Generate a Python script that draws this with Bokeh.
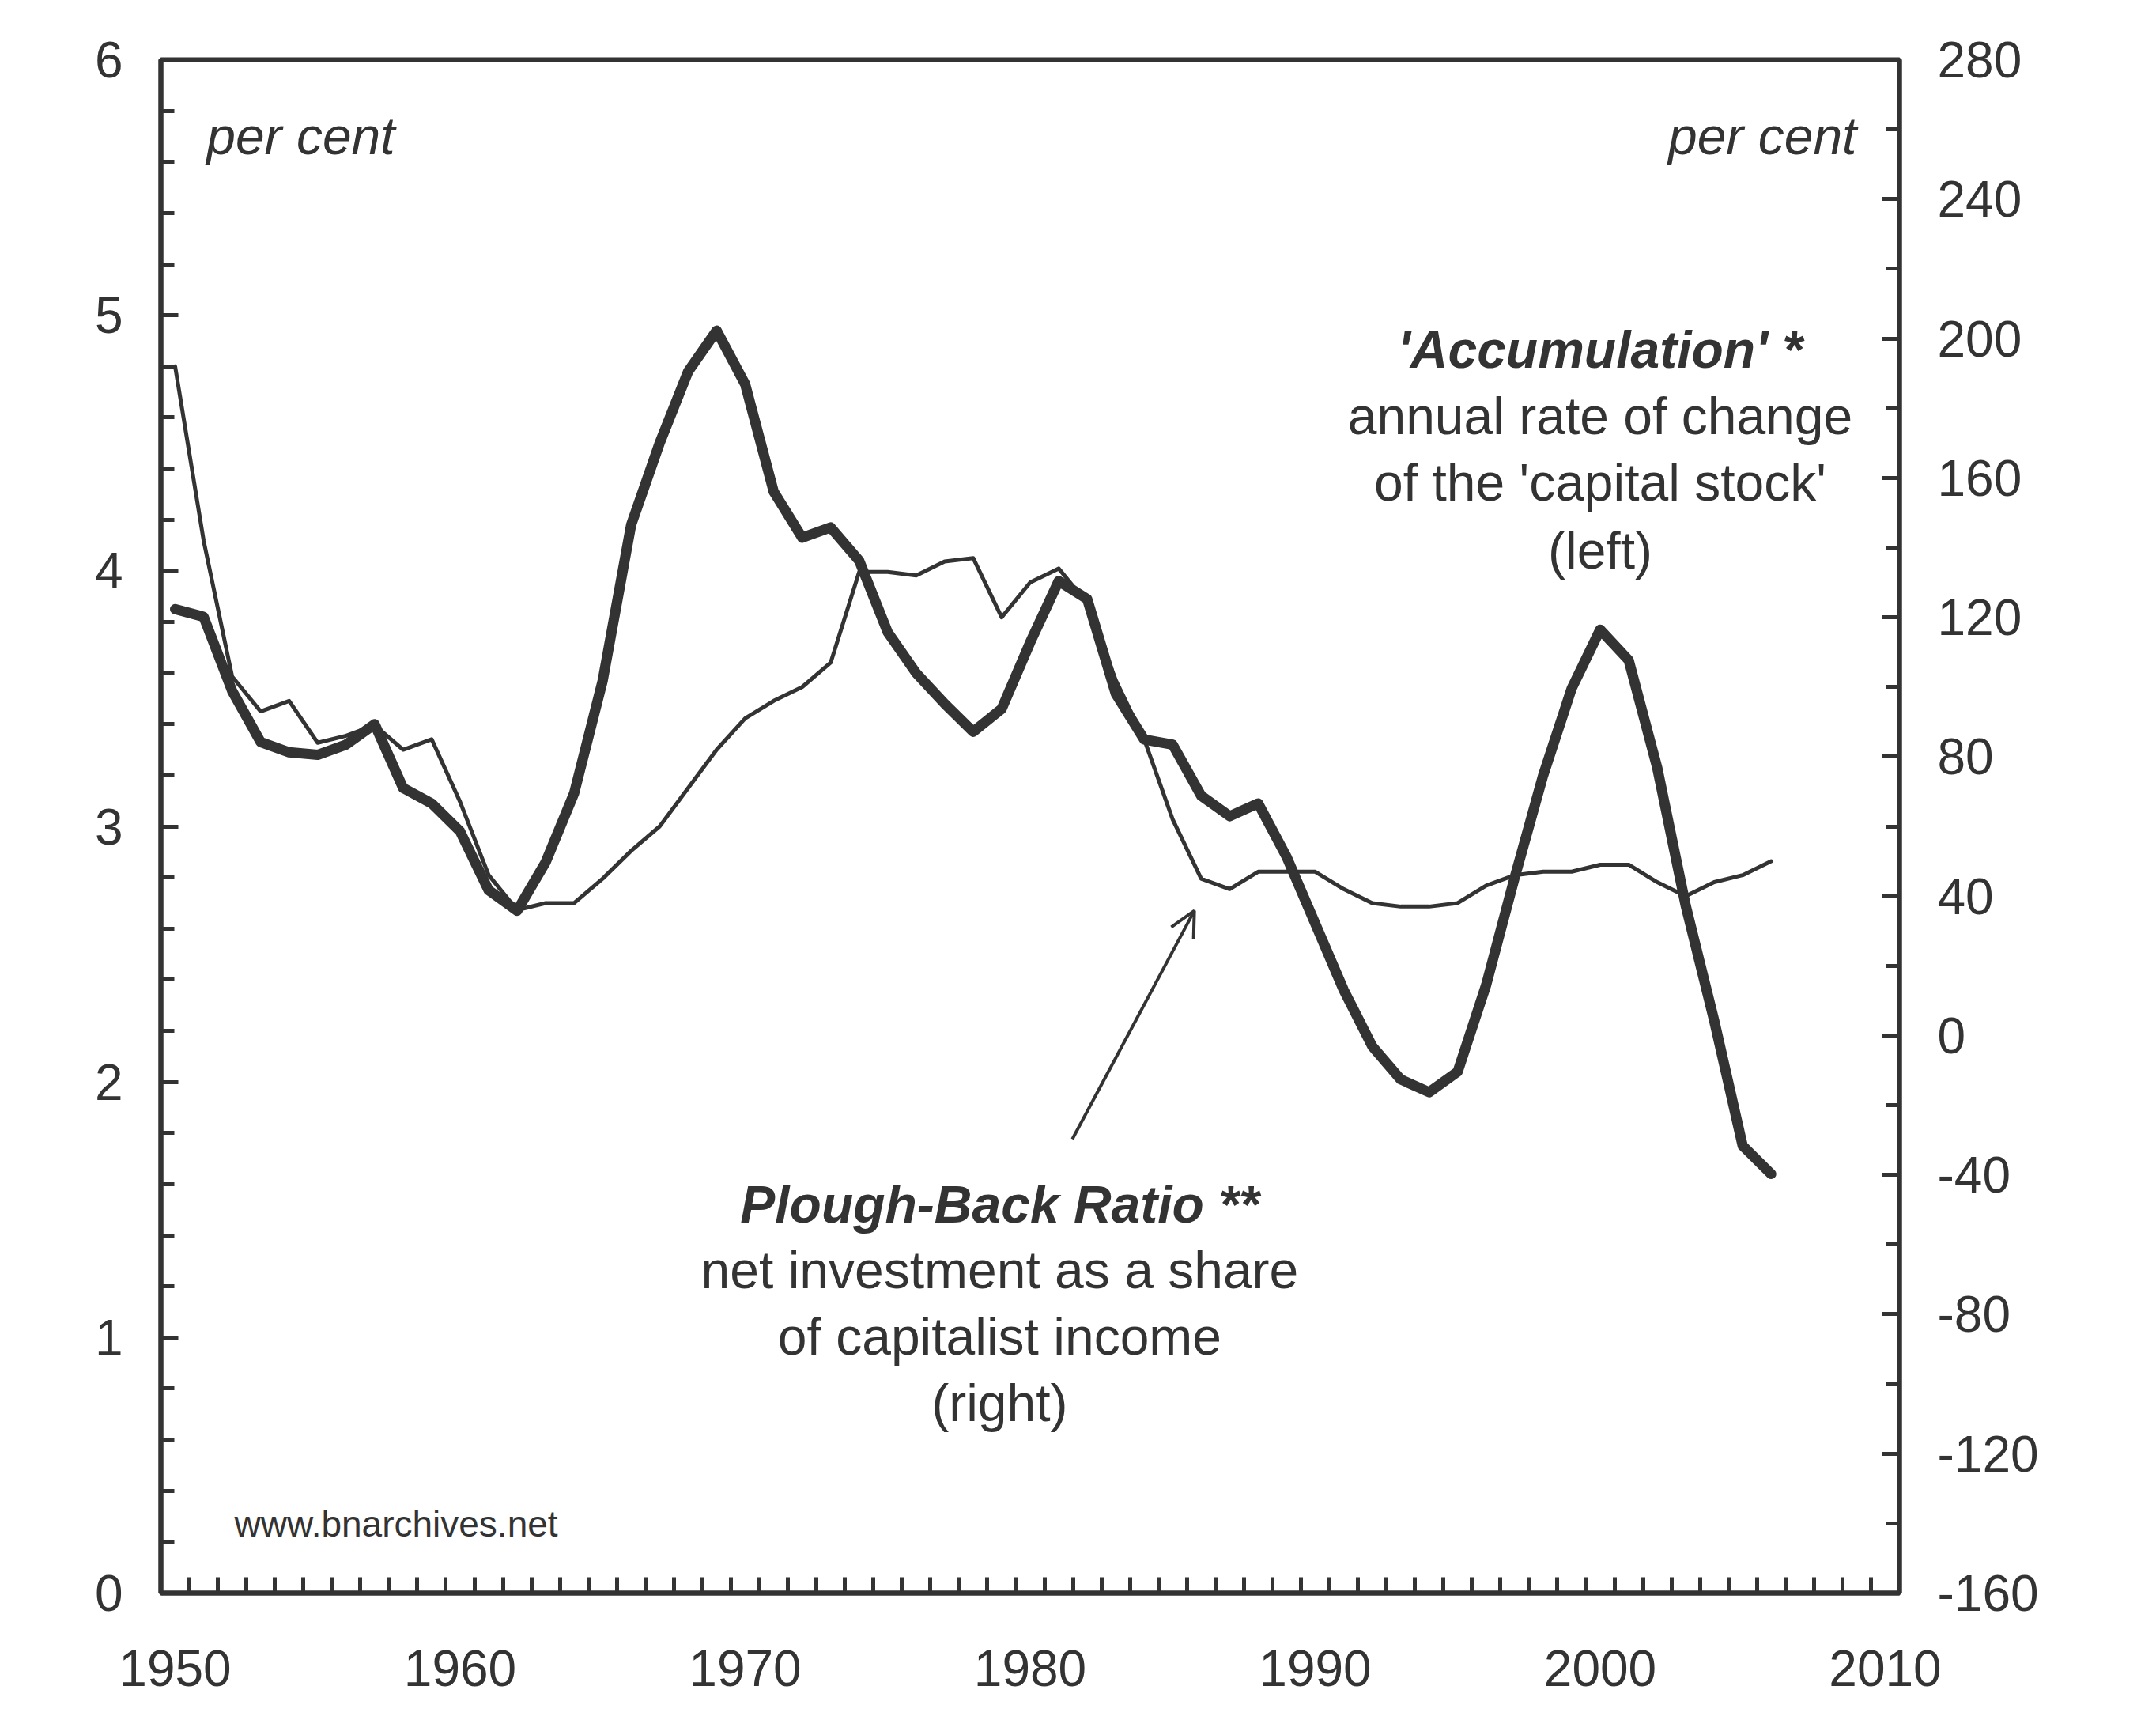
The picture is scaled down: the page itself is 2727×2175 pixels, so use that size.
from bokeh.plotting import figure
from bokeh.models import (Range1d, LinearAxis, FixedTicker, SingleIntervalTicker,
                          Label, Arrow, OpenHead, ColumnDataSource)
from bokeh.embed import file_html
from bokeh.resources import INLINE

years = list(range(1950, 2007))

accumulation = [3.85, 3.82, 3.53, 3.33, 3.29, 3.28, 3.32, 3.40, 3.15, 3.09,
                2.98, 2.75, 2.67, 2.86, 3.13, 3.57, 4.18, 4.50, 4.78, 4.94,
                4.73, 4.31, 4.13, 4.17, 4.04, 3.76, 3.60, 3.48, 3.37, 3.46,
                3.72, 3.96, 3.89, 3.52, 3.34, 3.32, 3.12, 3.04, 3.09, 2.88,
                2.62, 2.36, 2.14, 2.01, 1.96, 2.04, 2.38, 2.80, 3.20, 3.54,
                3.77, 3.65, 3.23, 2.69, 2.24, 1.75, 1.64]

plough_back = [192, 142, 103, 93, 96, 84, 86, 89, 82, 85,
               67, 46, 36, 38, 38, 45, 53, 60, 71, 82,
               91, 96, 100, 107, 133, 133, 132, 136, 137, 120,
               130, 134, 124, 102, 85, 62, 45, 42, 47, 47,
               47, 42, 38, 37, 37, 38, 43, 46, 47, 47,
               49, 49, 44, 40, 44, 46, 50]

x_labels = [1950, 1960, 1970, 1980, 1990, 2000, 2010]
left_ticks = [0, 1, 2, 3, 4, 5, 6]
right_ticks = [-160, -120, -80, -40, 0, 40, 80, 120, 160, 200, 240, 280]

INK = "#333333"
FONT = "Liberation Sans"

p = figure(width=2727, height=2175, output_backend="svg", toolbar_location=None,
           x_range=Range1d(1949.5, 2010.5), y_range=Range1d(0, 6),
           x_axis_location=None, y_axis_location=None,
           min_border_left=203, min_border_right=325,
           min_border_top=75, min_border_bottom=161)
p.background_fill_color = "white"
p.border_fill_color = "white"
p.xgrid.visible = False
p.ygrid.visible = False
p.outline_line_color = INK
p.outline_line_width = 6
p.extra_y_ranges = {"right": Range1d(-160, 280)}

def style(ax, tick_in, minor_in, standoff):
    ax.axis_line_color = INK
    ax.axis_line_width = 6
    ax.major_tick_line_color = INK
    ax.major_tick_line_width = 5
    ax.minor_tick_line_color = INK
    ax.minor_tick_line_width = 5
    ax.major_tick_in = tick_in
    ax.major_tick_out = 0
    ax.minor_tick_in = minor_in
    ax.minor_tick_out = 0
    ax.major_label_text_color = INK
    ax.major_label_text_font = FONT
    ax.major_label_text_font_size = "64px"
    ax.major_label_standoff = standoff

xax = LinearAxis(ticker=FixedTicker(ticks=x_labels,
                                    minor_ticks=[y + 0.5 for y in range(1950, 2010)]))
style(xax, 0, 20, 72)
xax.major_label_overrides = {v: str(v) for v in x_labels}
p.add_layout(xax, "below")

lax = LinearAxis(ticker=SingleIntervalTicker(interval=1, num_minor_ticks=5))
style(lax, 22, 17, 48)
lax.major_label_overrides = {v: str(v) for v in left_ticks}
p.add_layout(lax, "left")

rax = LinearAxis(y_range_name="right",
                 ticker=SingleIntervalTicker(interval=40, num_minor_ticks=2))
style(rax, 22, 17, 48)
rax.major_label_overrides = {v: str(v) for v in right_ticks}
p.add_layout(rax, "right")

src = ColumnDataSource(dict(year=years, acc=accumulation, pb=plough_back))
p.line("year", "pb", source=src, y_range_name="right", line_color=INK,
       line_width=5, line_join="round", line_cap="round")
p.line("year", "acc", source=src, line_color=INK, line_width=13,
       line_join="round", line_cap="round")

def lab(x, y, text, size="66px", align="center", style="normal"):
    p.add_layout(Label(x=x, y=y, text=text, text_font=FONT, text_font_size=size,
                       text_color=INK, text_align=align, text_baseline="alphabetic",
                       text_font_style=style))

lab(1951.1, 5.70, "per cent", align="left", style="italic")
lab(2009.0, 5.70, "per cent", align="right", style="italic")

lab(2000.0, 4.865, "'Accumulation' *", style="bold italic")
lab(2000.0, 4.605, "annual rate of change")
lab(2000.0, 4.345, "of the 'capital stock'")
lab(2000.0, 4.08, "(left)")

lab(1978.93, 1.52, "Plough-Back Ratio **", style="bold italic")
lab(1978.93, 1.265, "net investment as a share")
lab(1978.93, 1.005, "of capitalist income")
lab(1978.93, 0.745, "(right)")

lab(1952.08, 0.27, "www.bnarchives.net", size="46px", align="left")

p.add_layout(Arrow(end=OpenHead(size=32, line_width=4, line_color=INK),
                   x_start=1981.48, y_start=1.776, x_end=1985.76, y_end=2.67,
                   line_width=4, line_color=INK))

open("out.html", "w").write(file_html(p, INLINE))
